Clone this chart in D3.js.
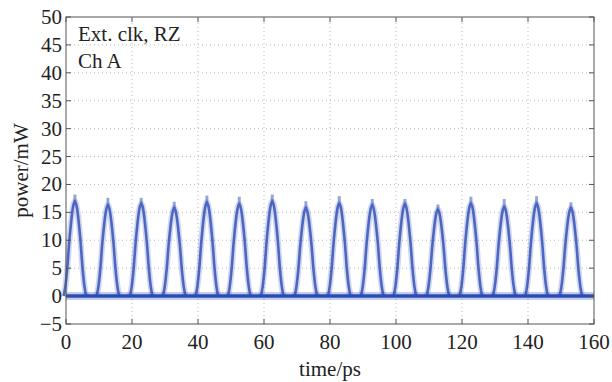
<!DOCTYPE html>
<html>
<head>
<meta charset="utf-8">
<script src="https://cdn.jsdelivr.net/npm/d3@7"></script>
<style>
	body { margin: 0; background: #fff; }
	svg { display: block; font-family: 'Liberation Serif', 'DejaVu Serif', serif; }
</style>
</head>
<body>
<div class="pulse-chart"></div>
<script>
// pulse centres (ps) and peak power (mW)
const pulseTimes = [2.7, 12.7, 22.8, 32.8, 42.7, 52.5, 62.5, 72.7, 82.8, 92.8, 102.7, 112.7, 122.7, 132.8, 142.6, 153.0];
const pulsePeaks = [17.0, 16.3, 16.6, 15.8, 16.8, 16.5, 17.0, 15.8, 16.6, 16.3, 16.5, 15.5, 16.6, 16.0, 16.6, 15.8];
const pulseTops = [18.2, 17.6, 17.6, 16.9, 18.0, 17.8, 18.2, 17.0, 17.9, 17.4, 17.4, 16.4, 17.8, 17.4, 17.9, 16.8];
// shape of one pulse: offset from centre (ps), fraction of peak
const profileOffsets = [-3.4, -2.9, -2.3, -1.65, -0.75, -0.3, 0, 0.3, 0.75, 1.65, 2.3, 2.9, 3.4];
const profileLevels = [0, 0.1, 0.3, 0.6, 0.9, 0.98, 1, 0.98, 0.9, 0.6, 0.3, 0.1, 0];
const xTicks = [0, 20, 40, 60, 80, 100, 120, 140, 160];
const yTicks = [-5, 0, 5, 10, 15, 20, 25, 30, 35, 40, 45, 50];
const notes = ['Ext. clk, RZ', 'Ch A'];

let width = 612, height = 382;
let margin = { top: 17, right: 18, bottom: 58, left: 66 };
let dotColor = '#2c4bb5';
let fontSize = 21;

let x = d3.scaleLinear().domain([0, 160]).range([margin.left, width - margin.right]);
let y = d3.scaleLinear().domain([-5, 50]).range([height - margin.bottom, margin.top]);

let svg = d3.select('.pulse-chart').append('svg')
	.attr('width', width)
	.attr('height', height);

// grid
let grid = svg.append('g').attr('stroke', '#aaa').attr('stroke-width', 0.8).attr('stroke-dasharray', '1,3');
grid.selectAll('.gx').data(xTicks.slice(1, -1)).enter().append('line')
	.attr('x1', d => x(d)).attr('x2', d => x(d))
	.attr('y1', y(-5)).attr('y2', y(50));
grid.selectAll('.gy').data(yTicks.slice(1, -1)).enter().append('line')
	.attr('y1', d => y(d)).attr('y2', d => y(d))
	.attr('x1', x(0)).attr('x2', x(160));

// trace
let plot = svg.append('g');
let line = d3.line()
	.x(d => x(d[0]))
	.y(d => y(d[1]))
	.curve(d3.curveCatmullRom);

let pulses = pulseTimes.map((t, i) => profileOffsets.map((o, j) => [t + o, pulsePeaks[i] * profileLevels[j]]));

// soft halo then dense core
plot.selectAll('.halo').data(pulses).enter().append('path')
	.attr('fill', 'none').attr('stroke', dotColor).attr('stroke-opacity', 0.22)
	.attr('stroke-width', 6).attr('stroke-linejoin', 'round')
	.attr('d', line);
plot.selectAll('.core').data(pulses).enter().append('path')
	.attr('fill', 'none').attr('stroke', dotColor).attr('stroke-opacity', 0.8)
	.attr('stroke-width', 2.6).attr('stroke-linejoin', 'round')
	.attr('d', line);
plot.selectAll('.top').data(pulseTimes).enter().append('line')
	.attr('x1', d => x(d)).attr('x2', d => x(d))
	.attr('y1', (d, i) => y(pulsePeaks[i]))
	.attr('y2', (d, i) => y(pulseTops[i]))
	.attr('stroke', dotColor).attr('stroke-opacity', 0.5).attr('stroke-width', 3);

// baseline noise band at 0 mW
plot.append('line')
	.attr('x1', x(0)).attr('x2', x(160))
	.attr('y1', y(0)).attr('y2', y(0))
	.attr('stroke', dotColor).attr('stroke-opacity', 0.28).attr('stroke-width', 8);
plot.append('line')
	.attr('x1', x(0)).attr('x2', x(160))
	.attr('y1', y(0)).attr('y2', y(0))
	.attr('stroke', dotColor).attr('stroke-width', 3.5);

// frame and inward ticks
svg.append('rect')
	.attr('x', x(0)).attr('y', y(50))
	.attr('width', x(160) - x(0)).attr('height', y(-5) - y(50))
	.attr('fill', 'none').attr('stroke', '#555').attr('stroke-width', 1);

let tk = svg.append('g').attr('stroke', '#555').attr('stroke-width', 1);
xTicks.forEach(d => {
	tk.append('line').attr('x1', x(d)).attr('x2', x(d)).attr('y1', y(-5)).attr('y2', y(-5) - 5);
	tk.append('line').attr('x1', x(d)).attr('x2', x(d)).attr('y1', y(50)).attr('y2', y(50) + 5);
});
yTicks.forEach(d => {
	tk.append('line').attr('y1', y(d)).attr('y2', y(d)).attr('x1', x(0)).attr('x2', x(0) + 5);
	tk.append('line').attr('y1', y(d)).attr('y2', y(d)).attr('x1', x(160)).attr('x2', x(160) - 5);
});

// tick labels
svg.append('g').selectAll('text').data(xTicks).enter().append('text')
	.attr('x', d => x(d)).attr('y', y(-5) + 25)
	.attr('text-anchor', 'middle').attr('font-size', fontSize).attr('fill', '#222')
	.text(d => d);
svg.append('g').selectAll('text').data(yTicks).enter().append('text')
	.attr('x', x(0) - 4).attr('y', d => y(d) + 7)
	.attr('text-anchor', 'end').attr('font-size', fontSize).attr('fill', '#222')
	.text(d => d < 0 ? '\u2212' + Math.abs(d) : d);

// axis titles
svg.append('text')
	.attr('x', (x(0) + x(160)) / 2).attr('y', 376)
	.attr('text-anchor', 'middle').attr('font-size', fontSize).attr('fill', '#222')
	.text('time/ps');
svg.append('text')
	.attr('transform', 'translate(28,' + ((y(-5) + y(50)) / 2) + ') rotate(-90)')
	.attr('text-anchor', 'middle').attr('font-size', fontSize).attr('fill', '#222')
	.text('power/mW');

// notes
svg.append('g').selectAll('text').data(notes).enter().append('text')
	.attr('x', 78).attr('y', (d, i) => 41 + i * 27)
	.attr('font-size', fontSize).attr('fill', '#222')
	.text(d => d);
</script>
</body>
</html>
